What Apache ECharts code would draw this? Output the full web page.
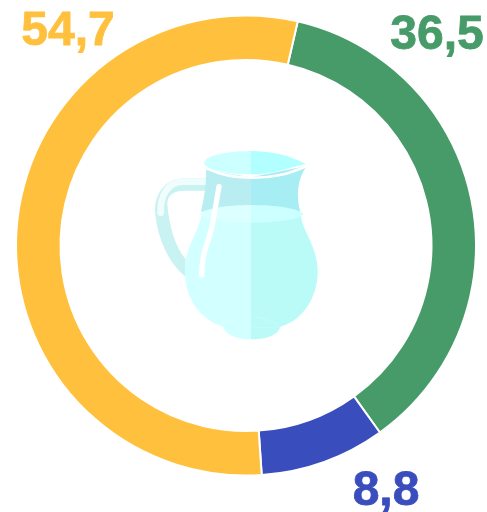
<!DOCTYPE html>
<html>
<head>
<meta charset="utf-8">
<style>html,body{margin:0;padding:0;background:#fff}#c{width:487px;height:512px}</style>
<script src="https://cdn.jsdelivr.net/npm/echarts@6/dist/echarts.min.js"></script>
</head>
<body>
<div id="c"></div>
<script>
var categories = ['A', 'B', 'C'];
var values = [36.5, 8.8, 54.7];
var colors = ['#469b69', '#394dbd', '#ffc13d'];
var labelSpots = [[437, 36], [386, 492], [68, 32]];

var shapeCount = 0;
function makeShape(d) {
  var name = 'jugShape' + (shapeCount++);
  echarts.graphic.registerShape(name, echarts.graphic.extendPath(d, {}));
  return name;
}
function jugPath(d, fill) {
  return { type: makeShape(d), style: { fill: fill } };
}
function jugLine(d, stroke, w) {
  return { type: makeShape(d), style: { fill: 'none', stroke: stroke, lineWidth: w, lineCap: 'round' } };
}
var jugParts = [
  jugPath('M198 115 L130 115 C80 115 45 160 45 210 C50 290 85 370 137 410 L137 358 C105 320 88 260 82 195 C80 165 100 152 135 152 L198 152 Z', '#c9f2f2'),
  jugLine('M192 125 L130 125 C85 125 60 165 62 218', '#f0fdfd', 20),
  jugPath('M198 90 L333 112 L333 215 L183 215 C193 170 200 130 198 90 Z', '#b8eef2'),
  jugPath('M333 112 L500 78 C470 120 468 170 482 220 L333 215 Z', '#a6eef4'),
  jugPath('M185 225 C170 290 135 320 135 395 C135 480 185 540 250 560 C260 590 300 598 333 598 L333 225 Z', '#d2ffff'),
  jugPath('M333 225 L333 598 C370 598 412 590 421 560 C480 545 533 480 533 395 C533 320 490 280 482 225 Z', '#bafbf8'),
  jugPath('M180 222 C190 205 270 195 333 195 L333 248 C270 248 190 240 180 222 Z', '#dcffff'),
  jugPath('M333 195 C400 195 480 205 490 222 C480 240 400 248 333 248 Z', '#ccffff'),
  jugLine('M237 140 L218 250 C210 300 185 330 185 405', '#ffffff', 16),
  jugLine('M195 80 C240 112 340 122 420 105 C460 97 480 85 505 76', '#ffffff', 8),
  jugPath('M192 68 C200 42 280 33 333 33 L333 103 C270 103 195 92 192 68 Z', '#ccffff'),
  jugPath('M333 33 C400 33 450 48 498 72 C450 80 410 103 333 103 Z', '#b2ffff'),
  jugLine('M333 530 C370 532 405 545 420 563 L333 563', '#cdfdfb', 1.5)
];

var chart = echarts.init(document.getElementById('c'), null, { renderer: 'canvas' });
chart.setOption({
  animation: false,
  backgroundColor: '#ffffff',
  graphic: [{
    type: 'group', x: 140, y: 140, scaleX: 1 / 3, scaleY: 1 / 3, silent: true,
    children: jugParts
  }],
  series: [{
    type: 'pie',
    center: [246, 245.5],
    radius: [185.5, 230],
    startAngle: 77,
    silent: true,
    avoidLabelOverlap: false,
    data: categories.map(function (c, i) {
      return {
        name: c, value: values[i],
        itemStyle: { color: colors[i] },
        label: { textBorderColor: colors[i], textBorderWidth: 0.8 }
      };
    }),
    itemStyle: { borderColor: '#ffffff', borderWidth: 2 },
    label: {
      show: true,
      position: 'inside',
      rotate: 0,
      formatter: function (p) { return String(p.value).replace('.', ','); },
      fontFamily: '"Liberation Sans", Arial, sans-serif',
      fontWeight: 'bold',
      fontSize: 48,
      color: 'inherit'
    },
    labelLine: { show: false },
    labelLayout: function (p) {
      var s = labelSpots[p.dataIndex];
      return { x: s[0], y: s[1], align: 'center', verticalAlign: 'middle' };
    }
  }]
});
</script>
</body>
</html>
